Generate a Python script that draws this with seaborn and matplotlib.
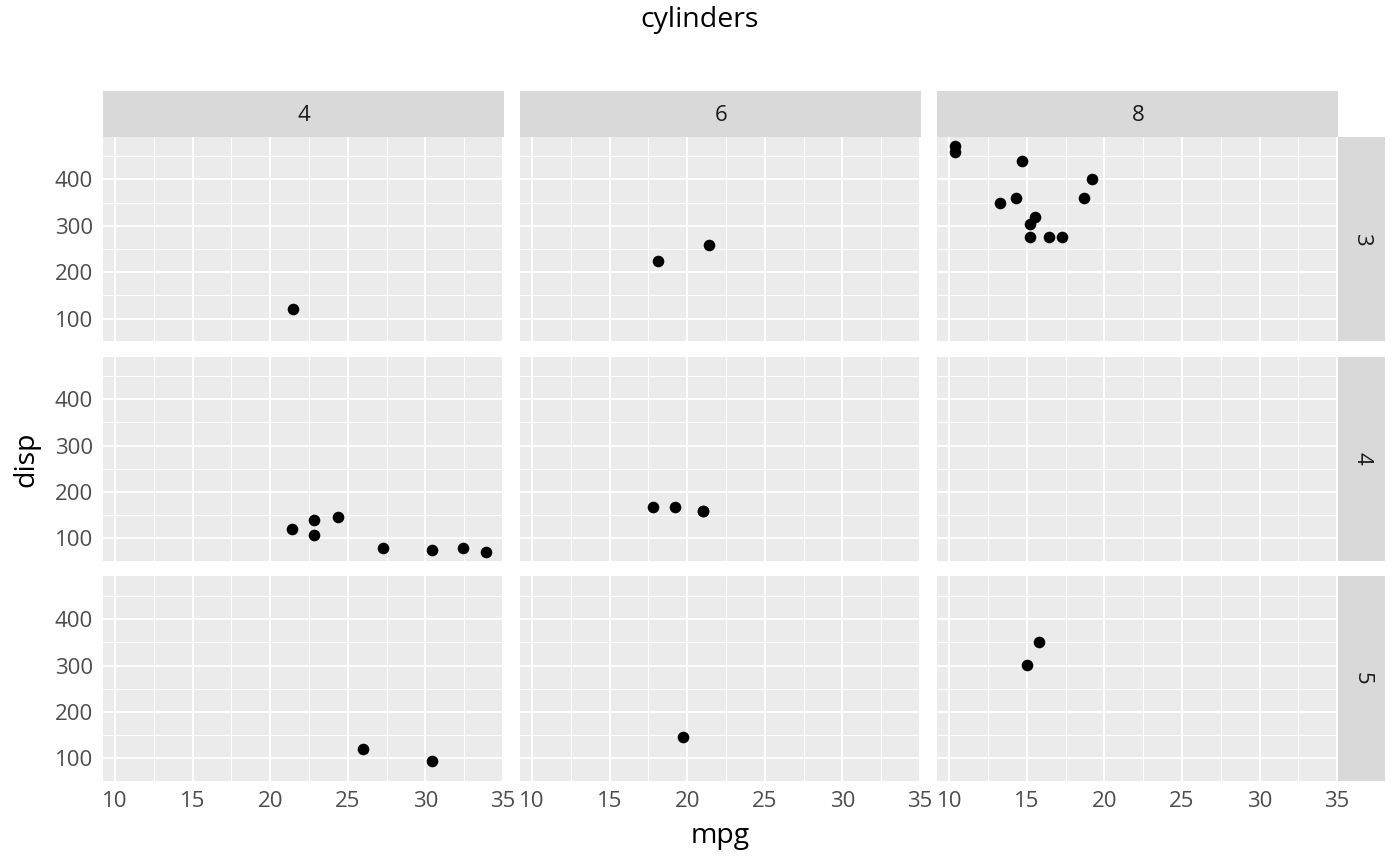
import matplotlib
matplotlib.use('Agg')
import matplotlib.pyplot as plt
import pandas as pd
import seaborn as sns
from matplotlib.patches import Rectangle
from matplotlib.ticker import MultipleLocator

# mtcars: mpg vs disp, facetado por cilindros (columnas) y marchas (filas)
mpg = [21.0, 21.0, 22.8, 21.4, 18.7, 18.1, 14.3, 24.4, 22.8, 19.2, 17.8,
       16.4, 17.3, 15.2, 10.4, 10.4, 14.7, 32.4, 30.4, 33.9, 21.5, 15.5,
       15.2, 13.3, 19.2, 27.3, 26.0, 30.4, 15.8, 19.7, 15.0, 21.4]
cyl = [6, 6, 4, 6, 8, 6, 8, 4, 4, 6, 6,
       8, 8, 8, 8, 8, 8, 4, 4, 4, 4, 8,
       8, 8, 8, 4, 4, 4, 8, 6, 8, 4]
disp = [160, 160, 108, 258, 360, 225, 360, 146.7, 140.8, 167.6, 167.6,
        275.8, 275.8, 275.8, 472, 460, 440, 78.7, 75.7, 71.1, 120.1, 318,
        304, 350, 400, 79, 120.3, 95.1, 351, 145, 301, 121]
gear = [4, 4, 4, 3, 3, 3, 3, 4, 4, 4, 4,
        3, 3, 3, 3, 3, 3, 4, 4, 4, 3, 3,
        3, 3, 3, 4, 5, 5, 5, 5, 5, 4]

df = pd.DataFrame({'mpg': mpg, 'cyl': cyl, 'disp': disp, 'gear': gear})

sns.set_style('darkgrid', {'axes.facecolor': '#EBEBEB', 'grid.color': 'white'})
plt.rcParams['font.family'] = ['Open Sans', 'DejaVu Sans']

g = sns.relplot(data=df, x='mpg', y='disp', col='cyl', row='gear', kind='scatter',
                color='black', s=70, linewidth=0, height=2, aspect=2,
                facet_kws={'despine': False, 'sharex': True, 'sharey': True})
g.set_titles('')
g.set_axis_labels('', '')
fig = g.figure
fig.set_size_inches(14, 8.66)

W, H = 1400, 866
fig.subplots_adjust(left=103 / W, right=1338.3 / W, top=1 - 136.7 / H, bottom=1 - 781 / H,
                    wspace=16 / 401, hspace=15.3 / 204.7)

nrow, ncol = g.axes.shape
for i in range(nrow):
    for j in range(ncol):
        ax = g.axes[i, j]
        ax.set_xlim(9.225, 35.075)
        ax.set_ylim(51.045, 492.045)
        ax.xaxis.set_major_locator(MultipleLocator(5))
        ax.xaxis.set_minor_locator(MultipleLocator(2.5))
        ax.yaxis.set_major_locator(MultipleLocator(100))
        ax.yaxis.set_minor_locator(MultipleLocator(50))
        ax.grid(which='major', color='white', linewidth=1.4)
        ax.grid(which='minor', color='white', linewidth=0.7)
        ax.set_axisbelow(True)
        for sp in ax.spines.values():
            sp.set_visible(False)
        ax.tick_params(which='minor', length=0)
        ax.tick_params(which='major', length=4.3, width=1.1, color='#333333',
                       labelsize=16, labelcolor='#4D4D4D', pad=3)
        if i != nrow - 1:
            ax.tick_params(axis='x', which='major', length=0)
        if j != 0:
            ax.tick_params(axis='y', which='major', length=0)

col_names = ['4', '6', '8']
row_names = ['3', '4', '5']
strip_h = 45.5 / H
strip_w = 46.7 / W

for j in range(ncol):
    p = g.axes[0, j].get_position()
    fig.patches.append(Rectangle((p.x0, p.y1), p.width, strip_h, transform=fig.transFigure,
                                 facecolor='#D9D9D9', edgecolor='none', zorder=0))
    fig.text(p.x0 + p.width / 2, p.y1 + strip_h / 2 - 2 / H, col_names[j], ha='center',
             va='center', fontsize=16, color='#1A1A1A')

for i in range(nrow):
    p = g.axes[i, ncol - 1].get_position()
    fig.patches.append(Rectangle((p.x1, p.y0), strip_w, p.height, transform=fig.transFigure,
                                 facecolor='#D9D9D9', edgecolor='none', zorder=0))
    fig.text(p.x1 + strip_w / 2, p.y0 + p.height / 2, row_names[i], ha='center', va='center',
             rotation=-90, fontsize=16, color='#1A1A1A')

fig.text(0.5, 1 - 27 / H, 'cylinders', ha='center', va='baseline', fontsize=20.5, color='black')
fig.text(720.5 / W, 1 - 843 / H, 'mpg', ha='center', va='baseline', fontsize=20.5, color='black')
fig.text(26 / W, 1 - 459 / H, 'disp', ha='center', va='center', rotation=90,
         fontsize=20.5, color='black')

fig.savefig('out.png', dpi=100)
